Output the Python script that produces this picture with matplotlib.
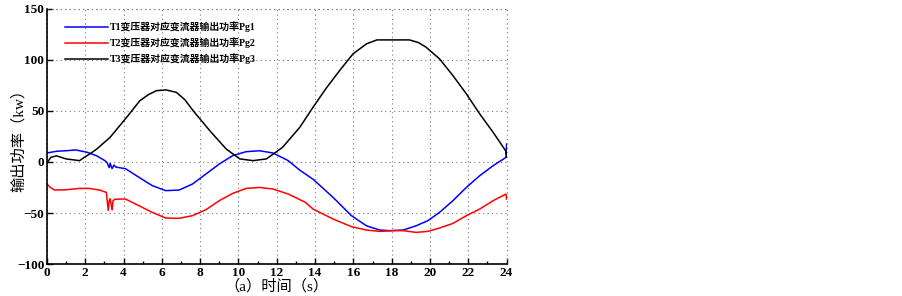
import matplotlib.pyplot as plt
from matplotlib.ticker import MultipleLocator

# data
t_pg1 = [0, 0.5, 1.0, 1.5, 2.1, 2.6, 3.05, 3.15, 3.25, 3.3, 3.4, 3.5, 3.6, 4.1, 4.8, 5.5, 6.2, 6.9, 7.6, 8.3,
         9.0, 9.7, 10.4, 11.1, 11.8, 12.6, 13.2, 13.9, 14.94, 15.9, 16.68, 17.37, 17.9, 18.6, 19.28,
         19.89, 20.5, 21.2, 21.9, 22.6, 23.3, 23.97, 24.0]
pg1 = [8.8, 10.5, 11.0, 11.8, 9.5, 6.0, 1.0, -1.0, -5.5, -1.5, -6.5, -3.0, -5.0, -6.6, -15.0, -23.2, -28.1, -27.5, -21.6, -11.8,
       -2.0, 6.2, 10.1, 11.0, 8.8, 1.3, -8.0, -17.0, -34.7, -52.6, -62.5, -66.7, -67.3, -66.7, -62.5,
       -57.5, -49.4, -37.9, -24.9, -13.4, -3.6, 4.5, 17.6]

t_pg2 = [0, 0.17, 0.4, 1.0, 1.7, 2.2, 2.74, 3.1, 3.2, 3.25, 3.3, 3.4, 3.45, 3.55, 4.1, 4.8, 5.5, 6.2, 6.9, 7.6,
         8.3, 9.0, 9.7, 10.4, 11.1, 11.8, 12.6, 13.5, 13.89, 14.94, 15.9, 16.68, 17.37, 18.06, 18.6,
         19.28, 19.89, 20.5, 21.2, 21.9, 22.6, 23.3, 23.97, 24.0]
pg2 = [-21.6, -24.9, -27.5, -27.2, -25.9, -25.9, -27.5, -29.8, -47.5, -38.0, -36.0, -47.0, -38.0, -36.5, -36.3, -42.8, -49.4, -54.9, -55.2, -52.6,
       -46.8, -37.9, -30.8, -25.9, -25.0, -26.5, -31.4, -39.6, -46.1, -55.9, -63.4, -66.7, -68.0, -67.3, -67.3,
       -69.0, -68.0, -64.7, -60.2, -52.6, -46.1, -37.9, -31.4, -36.3]

t_pg3 = [0, 0.2, 0.5, 1.0, 1.7, 2.07, 2.33, 2.6, 3.29, 4.16, 4.85, 5.3, 5.72, 6.22, 6.76, 7.2, 7.63, 8.5, 9.36,
         10.07, 10.76, 11.46, 12.3, 13.2, 13.89, 14.59, 15.28, 15.98, 16.68, 17.23, 18.93, 19.4, 19.8, 20.5,
         21.2, 21.9, 22.6, 23.3, 23.95, 24.0]
pg3 = [-1.0, 4.5, 6.0, 3.0, 1.3, 6.0, 9.0, 12.7, 24.0, 43.7, 60.0, 66.0, 69.9, 70.6, 68.2, 61.0, 50.3, 30.7, 12.7,
       3.0, 1.3, 3.0, 14.3, 33.9, 53.5, 72.5, 89.5, 105.9, 115.7, 119.6, 119.6, 117.0, 112.4, 101.0,
       84.6, 66.7, 47.0, 29.0, 11.0, 5.0]

labels = ['T1变压器对应变流器输出功率Pg1', 'T2变压器对应变流器输出功率Pg2', 'T3变压器对应变流器输出功率Pg3']
colors = ['#0000ff', '#ff0000', '#000000']

fam = ['Liberation Serif', 'Noto Sans CJK SC']
plt.rcParams['font.family'] = fam

fig = plt.figure(figsize=(9.03, 2.96), dpi=100)
ax = fig.add_axes([0.052, 0.108, 0.509, 0.862])

ax.plot(t_pg1, pg1, color=colors[0], lw=1.1, label=labels[0])
ax.plot(t_pg2, pg2, color=colors[1], lw=1.1, label=labels[1])
ax.plot(t_pg3, pg3, color=colors[2], lw=1.1, label=labels[2])

ax.set_xlim(0, 24)
ax.set_ylim(-100, 150)
ax.xaxis.set_major_locator(MultipleLocator(2))
ax.xaxis.set_minor_locator(MultipleLocator(1))
ax.yaxis.set_major_locator(MultipleLocator(50))
ax.tick_params(direction='in', length=4, width=1, labelsize=9.5, pad=2)
ax.tick_params(which='minor', direction='in', length=2, width=1)
ax.tick_params(axis='y', which='minor', left=False)
for lb in ax.get_xticklabels() + ax.get_yticklabels():
    lb.set_fontweight('bold')

ax.spines['top'].set_visible(False)
ax.spines['right'].set_visible(False)
ax.spines['left'].set_linewidth(1.2)
ax.spines['bottom'].set_linewidth(1.2)
ax.grid(True, which='major', linestyle=(0, (1, 3)), color='#777777', lw=0.8)
# grid along the missing top/right frame
ax.axhline(150, linestyle=(0, (1, 3)), color='#777777', lw=0.8, clip_on=False)
ax.axvline(24, linestyle=(0, (1, 3)), color='#777777', lw=0.8, clip_on=False)

ax.set_xlabel('（a）时间（s）', fontsize=11)
ax.set_ylabel('输出功率（kw）', fontsize=11)
ax.xaxis.set_label_coords(0.5, -0.057)
ax.yaxis.set_label_coords(-0.046, 0.5)

leg = ax.legend(loc='upper left', bbox_to_anchor=(0.02, 0.985), frameon=False,
                fontsize=7.1, handlelength=4.4, handletextpad=0.1, labelspacing=0.5)
for txt in leg.get_texts():
    txt.set_fontweight('bold')

fig.savefig('out.png', dpi=100)
